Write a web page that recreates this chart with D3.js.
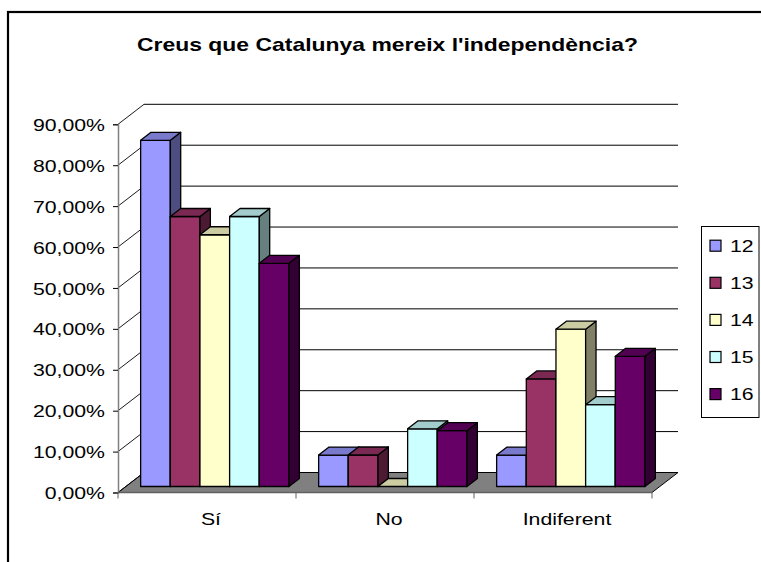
<!DOCTYPE html>
<html lang="ca">

<head>
    <meta charset="UTF-8">
    <title>Creus que Catalunya mereix l'independència?</title>
    <script src="https://cdnjs.cloudflare.com/ajax/libs/d3/7.8.5/d3.min.js"></script>
    <style>
        body {
            margin: 0;
            background: #fff;
        }

        text {
            font-family: Arial, "Liberation Sans", sans-serif;
            fill: #000;
        }

        .tick-label,
        .cat-label,
        .legend-label {
            font-size: 17px;
        }

        .title {
            font-size: 19px;
            font-weight: bold;
        }

        .bar-face {
            stroke: #000;
            stroke-width: 1.3px;
            stroke-linejoin: round;
        }
    </style>
</head>

<body>
    <div class="chart"></div>
    <script>
        // chart values
        var categories = ["Sí", "No", "Indiferent"];
        var seriesNames = ["12", "13", "14", "15", "16"];
        var s12 = [0.8462, 0.0769, 0.0769];
        var s13 = [0.6600, 0.0770, 0.2630];
        var s14 = [0.6154, 0.0000, 0.3846];
        var s15 = [0.6600, 0.1410, 0.2000];
        var s16 = [0.5455, 0.1364, 0.3182];
        var yTicks = [0, 0.1, 0.2, 0.3, 0.4, 0.5, 0.6, 0.7, 0.8, 0.9];
        var colors = ["#9999FF", "#993366", "#FFFFCC", "#CCFFFF", "#660066"];

        var seriesValues = [s12, s13, s14, s15, s16];

        var width = 761,
            height = 562;

        // the original image has its text stretched sideways
        var stretchK = 1.25;

        function stretch(sel, k) {
            sel.each(function() {
                var w = this.getComputedTextLength();
                d3.select(this)
                    .attr("textLength", w * k)
                    .attr("lengthAdjust", "spacingAndGlyphs");
            });
        }

        function shade(c, f) {
            var r = d3.rgb(c);
            return d3.rgb(r.r * f, r.g * f, r.b * f).toString();
        }

        var svg = d3.select(".chart").append("svg")
            .attr("width", width)
            .attr("height", height);

        // frame (runs off the right and bottom of the picture)
        svg.append("rect")
            .attr("x", 8)
            .attr("y", 12)
            .attr("width", 800)
            .attr("height", 600)
            .attr("fill", "none")
            .attr("stroke", "#000")
            .attr("stroke-width", 2.2);

        svg.append("text")
            .attr("class", "title")
            .attr("x", 387.5)
            .attr("y", 50.5)
            .attr("text-anchor", "middle")
            .attr("textLength", 501)
            .attr("lengthAdjust", "spacingAndGlyphs")
            .text("Creus que Catalunya mereix l'independència?");

        // 3d depth of the plot box and of the bars
        var depthX = 26,
            depthY = -20;
        var barFront = 0.3,
            barBack = 0.7;

        var x0 = d3.scaleBand()
            .domain(categories)
            .range([118, 652]);
        var x1 = d3.scaleBand()
            .domain(seriesNames)
            .range([0, x0.bandwidth()])
            .paddingOuter(0.5);
        var y = d3.scaleLinear()
            .domain([0, 0.9])
            .range([492.5, 124.3]);

        var fmt = function(v) {
            return d3.format(".2f")(v * 100).replace(".", ",") + "%";
        };

        // floor
        var floorPts = [
            [x0.range()[0], y(0)],
            [x0.range()[1], y(0)],
            [x0.range()[1] + depthX, y(0) + depthY],
            [x0.range()[0] + depthX, y(0) + depthY]
        ];
        svg.append("polygon")
            .attr("points", floorPts.join(" "))
            .attr("fill", "#808080")
            .attr("stroke", "#000")
            .attr("stroke-width", 1);

        // back wall gridlines
        svg.append("g").selectAll("line")
            .data(yTicks)
            .enter()
            .append("line")
            .attr("x1", x0.range()[0] + depthX)
            .attr("x2", x0.range()[1] + depthX)
            .attr("y1", function(d) {
                return y(d) + depthY;
            })
            .attr("y2", function(d) {
                return y(d) + depthY;
            })
            .attr("stroke", "#000")
            .attr("stroke-width", 1);

        // side wall diagonals
        svg.append("g").selectAll("line")
            .data(yTicks)
            .enter()
            .append("line")
            .attr("x1", x0.range()[0])
            .attr("x2", x0.range()[0] + depthX)
            .attr("y1", function(d) {
                return y(d);
            })
            .attr("y2", function(d) {
                return y(d) + depthY;
            })
            .attr("stroke", "#000")
            .attr("stroke-width", 0.9);

        // value axis
        var yAxis = svg.append("g")
            .attr("transform", "translate(" + x0.range()[0] + ",0)")
            .call(d3.axisLeft(y).tickValues(yTicks).tickSize(5).tickPadding(8).tickFormat(fmt))
            .attr("font-family", null)
            .attr("font-size", null);
        yAxis.select(".domain").attr("stroke", "#808080").attr("stroke-width", 1.5);
        yAxis.selectAll(".tick line").attr("stroke", "#000");
        yAxis.selectAll(".tick text")
            .attr("class", "tick-label")
            .attr("x", -13)
            .attr("dy", "0.36em")
            .call(stretch, stretchK);

        // category axis
        var xAxis = svg.append("g")
            .attr("transform", "translate(0," + y(0) + ")");
        xAxis.append("line")
            .attr("x1", x0.range()[0])
            .attr("x2", x0.range()[1])
            .attr("stroke", "#606060")
            .attr("stroke-width", 1.5);
        xAxis.selectAll(".cat-tick")
            .data([x0.range()[0]].concat(categories.map(function(c) {
                return x0(c) + x0.bandwidth();
            })))
            .enter()
            .append("line")
            .attr("x1", function(d) {
                return d;
            })
            .attr("x2", function(d) {
                return d;
            })
            .attr("y1", 0)
            .attr("y2", 6)
            .attr("stroke", "#606060");
        xAxis.selectAll(".cat-label")
            .data(categories)
            .enter()
            .append("text")
            .attr("class", "cat-label")
            .attr("x", function(d) {
                return x0(d) + x0.bandwidth() / 2 + 4;
            })
            .attr("y", 32.5)
            .attr("text-anchor", "middle")
            .text(function(d) {
                return d;
            })
            .call(stretch, stretchK);

        // bars, drawn left to right so later fronts cover earlier sides
        var fx = depthX * barFront,
            fy = depthY * barFront;
        var bdx = depthX * (barBack - barFront),
            bdy = depthY * (barBack - barFront);

        var bars = [];
        categories.forEach(function(c, ci) {
            seriesNames.forEach(function(s, si) {
                bars.push({
                    cat: c,
                    series: s,
                    index: si,
                    value: seriesValues[si][ci]
                });
            });
        });

        svg.append("g").selectAll("g")
            .data(bars)
            .enter()
            .append("g")
            .each(function(d) {
                var g = d3.select(this);
                var left = x0(d.cat) + x1(d.series) + fx;
                var right = left + x1.bandwidth();
                var top = y(d.value) + fy;
                var bottom = y(0) + fy;

                if (d.value > 0) {
                    g.append("rect")
                        .attr("class", "bar-face")
                        .attr("x", left)
                        .attr("y", top)
                        .attr("width", right - left)
                        .attr("height", bottom - top)
                        .attr("fill", colors[d.index]);
                    g.append("polygon")
                        .attr("class", "bar-face")
                        .attr("points", [
                            [right, top],
                            [right + bdx, top + bdy],
                            [right + bdx, bottom + bdy],
                            [right, bottom]
                        ].join(" "))
                        .attr("fill", shade(colors[d.index], 0.5));
                }
                g.append("polygon")
                    .attr("class", "bar-face")
                    .attr("points", [
                        [left, top],
                        [right, top],
                        [right + bdx, top + bdy],
                        [left + bdx, top + bdy]
                    ].join(" "))
                    .attr("fill", shade(colors[d.index], 0.8));
            });

        // legend
        var legend = svg.append("g");
        legend.append("rect")
            .attr("x", 701.5)
            .attr("y", 226.5)
            .attr("width", 57.5)
            .attr("height", 191)
            .attr("fill", "#fff")
            .attr("stroke", "#000")
            .attr("stroke-width", 1);
        var item = legend.selectAll(".item")
            .data(seriesNames)
            .enter()
            .append("g")
            .attr("transform", function(d, i) {
                return "translate(0," + (245.7 + i * 37.1) + ")";
            });
        item.append("rect")
            .attr("x", 710)
            .attr("y", -5.5)
            .attr("width", 11)
            .attr("height", 11)
            .attr("fill", function(d, i) {
                return colors[i];
            })
            .attr("stroke", "#000")
            .attr("stroke-width", 1.2);
        item.append("text")
            .attr("class", "legend-label")
            .attr("x", 730)
            .attr("y", 6)
            .text(function(d) {
                return d;
            })
            .call(stretch, stretchK);
    </script>
</body>

</html>
